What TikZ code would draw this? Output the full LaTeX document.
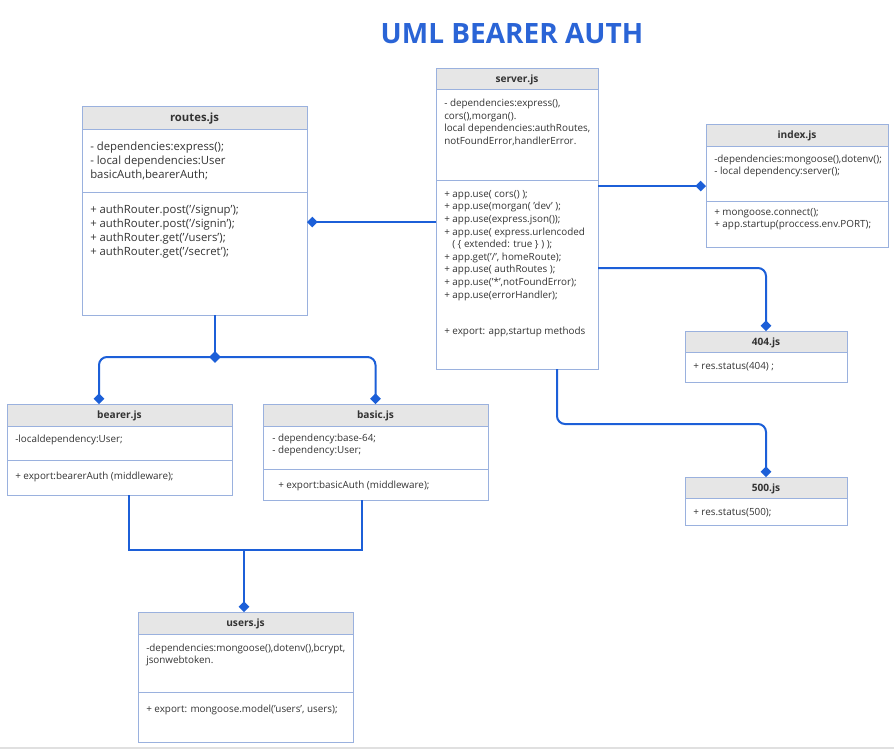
\documentclass[tikz,border=0pt]{standalone}
\usepackage{fontspec}
\setmainfont{Open Sans}
\usetikzlibrary{arrows.meta,fit,shapes.geometric}
\definecolor{connblue}{HTML}{1C5FD8}
\definecolor{titleblue}{HTML}{2A64D6}
\definecolor{boxedge}{HTML}{9AB1DE}
\definecolor{hdrgray}{HTML}{E6E6E6}
\definecolor{txtgray}{HTML}{333333}
\tikzset{
  boxst/.style={draw=boxedge, line width=0.7pt, inner sep=0pt, outer sep=0pt},
  boxline/.style={draw=boxedge, line width=0.7pt},
  hdrfill/.style={fill=hdrgray},
  hdrtext/.style={font=\fontsize{7.6}{9}\selectfont\bfseries, text=txtgray, inner sep=0pt},
  txt/.style={anchor=north west, inner sep=0pt, align=left, text=txtgray, font=\fontsize{7.4}{9.45}\selectfont},
  bigtxt/.style={txt, font=\fontsize{8.5}{10.5}\selectfont},
  conn/.style={draw=connblue, line width=1.5pt},
  conntip/.style={conn, -{Diamond[length=8pt,width=8pt]}},
  junction/.style={diamond, fill=connblue, inner sep=0pt, minimum size=9pt},
}
\newcommand\umlbox[7]{%
  \fill[hdrfill] (#2,#3) rectangle (#4,#6);
  \node[boxst, fit={(#2,#3) (#4,#5)}] (#1) {};
  \draw[boxline] (#2,#6) -- (#4,#6);
  \draw[boxline] (#2,#7) -- (#4,#7);}
\begin{document}
\begin{tikzpicture}[x=0.75pt,y=-0.75pt]
\useasboundingbox (0,0) rectangle (894,751);
\draw[black!12, line width=0.8pt] (0,748) -- (894,748);

\node[font=\fontsize{21}{25}\selectfont\bfseries, text=titleblue] (title) at (512,34) {UML BEARER AUTH};

% boxes: name, x1, y1, x2, y2, header bottom, divider
\umlbox{routes}{82}{106}{307}{315}{129}{192}
\umlbox{server}{436}{68}{598}{369}{89}{180}
\umlbox{index}{706}{124}{888}{247}{146}{201}
\umlbox{nfour}{685}{331}{847}{382}{352}{352}
\umlbox{nfive}{685}{477}{847}{525}{498}{498}
\umlbox{bearer}{7}{404}{232}{495}{426}{460}
\umlbox{basic}{263}{404}{488}{500}{426}{469}
\umlbox{users}{138}{612}{353}{742}{634}{692}

% headers
\node[hdrtext, font=\fontsize{8.5}{10}\selectfont\bfseries] (routesh) at (194.5,119) {routes.js};
\node[hdrtext] (serverh) at (517,79.5) {server.js};
\node[hdrtext] (indexh) at (797,136) {index.js};
\node[hdrtext] (nfourh) at (766,342.5) {404.js};
\node[hdrtext] (nfiveh) at (766,488.5) {500.js};
\node[hdrtext] (bearerh) at (119.5,416) {bearer.js};
\node[hdrtext] (basich) at (375.5,416) {basic.js};
\node[hdrtext] (usersh) at (245.5,624) {users.js};

% body texts
\node[bigtxt] (routesa) at (90,141.5) {- dependencies:express();\\- local dependencies:User\\basicAuth,bearerAuth;};
\node[bigtxt] (routesb) at (90,205) {+ authRouter.post('/signup');\\+ authRouter.post('/signin');\\+ authRouter.get('/users');\\+ authRouter.get('/secret');};

\node[txt] (servera) at (444,99) {- dependencies:express(),\\cors(),morgan().\\local dependencies:authRoutes,\\notFoundError,handlerError.};
\node[txt] (serverb) at (444,190) {+ app.use( cors() );\\+ app.use(morgan( 'dev' );\\+ app.use(express.json());\\+ app.use( express.urlencoded\\\hspace{6pt}( \{ extended: true \} ) );\\+ app.get('/', homeRoute);\\+ app.use( authRoutes );\\+ app.use('*',notFoundError);\\+ app.use(errorHandler);};
\node[txt] (serverc) at (444,326.5) {+ export: app,startup methods};

\node[txt] (indexa) at (714,154.5) {-dependencies:mongoose(),dotenv();\\- local dependency:server();};
\node[txt] (indexb) at (714,208) {+ mongoose.connect();\\+ app.startup(proccess.env.PORT);};

\node[txt] (nfoura) at (693,362.5) {+ res.status(404) ;};
\node[txt] (nfivea) at (693,508.5) {+ res.status(500);};

\node[txt] (bearera) at (15,434.5) {-localdependency:User;};
\node[txt] (bearerb) at (15,471.5) {+ export:bearerAuth (middleware);};

\node[txt] (basica) at (272,433.5) {- dependency:base-64;\\- dependency:User;};
\node[txt] (basicb) at (278,480.5) {+ export:basicAuth (middleware);};

\node[txt] (usersa) at (146,643.5) {-dependencies:mongoose(),dotenv(),bcrypt,\\jsonwebtoken.};
\node[txt] (usersb) at (146,704.5) {+ export: mongoose.model('users', users);};

% connectors
\draw[conntip] (server.west |- 0,222) -- (routes.east |- 0,222);
\draw[conntip] (server.east |- 0,186) -- (index.west |- 0,186);
\draw[conntip, rounded corners=6pt] (server.east |- 0,268) -| (nfour.north);
\coordinate (sbend) at (557,424);
\draw[conntip, rounded corners=6pt] (server.south -| sbend) -- (sbend) -| (nfive.north);

\coordinate (rj) at (215,357);
\draw[conn] (routes.south -| rj) -- (rj);
\draw[conntip, rounded corners=6pt] (rj) -| (bearer.north -| 99,0);
\draw[conntip, rounded corners=6pt] (rj) -| (basic.north);
\node[junction] (rjd) at (rj) {};

\coordinate (uj) at (244,550);
\draw[conn] (bearer.south -| 129,0) |- (uj) -| (basic.south -| 362,0);
\draw[conntip] (uj) -- (users.north -| uj);
\end{tikzpicture}
\end{document}
